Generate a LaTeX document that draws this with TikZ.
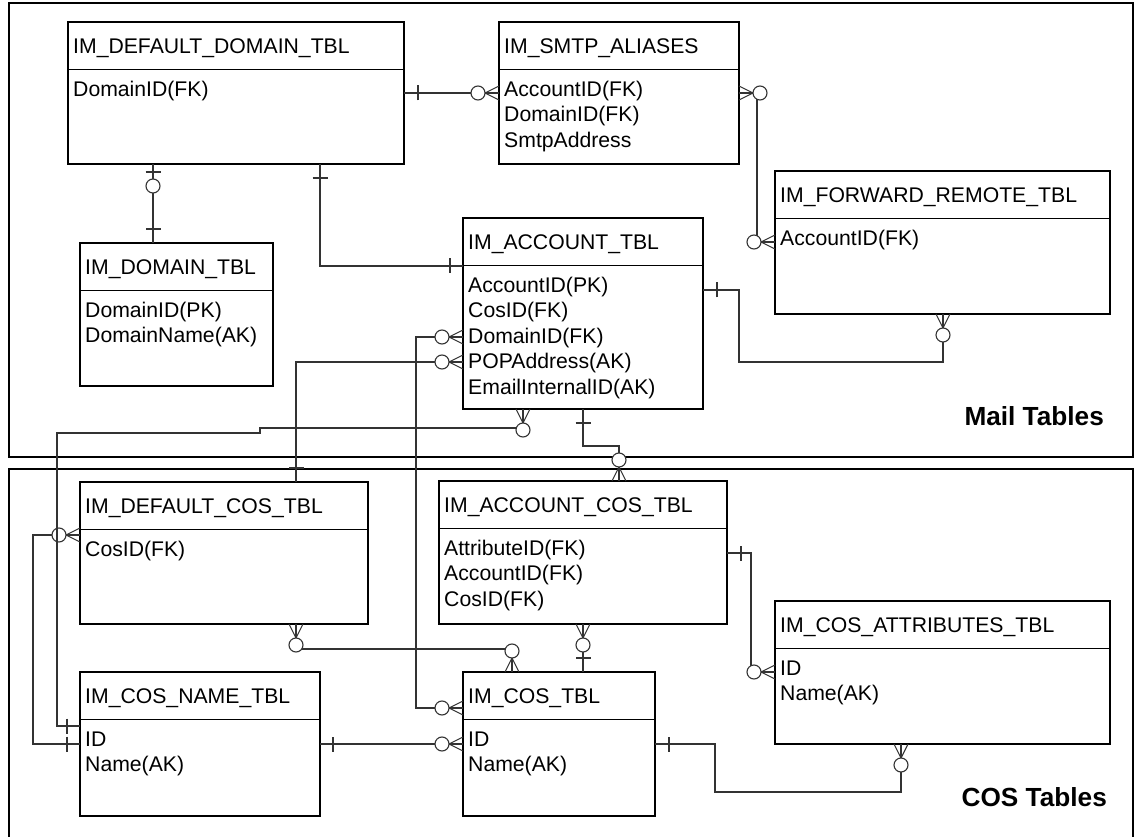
\documentclass[tikz,border=0pt]{standalone}
\usepackage{fontspec}
\setmainfont{Liberation Sans}

% An entity table: name, left, top, width, height, title, comma-separated fields
\newcommand\ertable[7]{%
  \node[tblbox, anchor=north west, minimum width=#4pt, minimum height=#5pt] (#1) at (#2,#3) {};
  \draw[tblline] ([yshift=-47.5pt]#1.north west) -- ([yshift=-47.5pt]#1.north east);
  \node[tbltext, anchor=base west] (#1-title) at ([xshift=5pt,yshift=-31.3pt]#1.north west) {#6};
  \foreach \fld [count=\rowidx] in {#7}{%
    \node[tbltext, anchor=base west] (#1-f\rowidx) at ([xshift=5pt,yshift={-74.1pt-(\rowidx-1)*25.5pt}]#1.north west) {\fld};
  }%
}
% Zero-or-many end: crow's foot touching the box and a circle beyond it
\newcommand\zeromany[2]{%
  \begin{scope}[shift={(#1)}, rotate=#2]
    \draw[conn] (0,7) -- (14,0) -- (0,-7);
    \draw[conn, fill=white] (21,0) circle[radius=7pt];
  \end{scope}}
% Exactly-one end: a bar across the line at a given distance from the box
\newcommand\onebar[3]{%
  \begin{scope}[shift={(#1)}, rotate=#2]
    \draw[conn] (#3,7.5) -- (#3,-7.5);
  \end{scope}}
% Zero-or-one end: bar near the box and a circle beyond it
\newcommand\zeroone[2]{%
  \begin{scope}[shift={(#1)}, rotate=#2]
    \draw[conn] (8,7.5) -- (8,-7.5);
    \draw[conn, fill=white] (22,0) circle[radius=7pt];
  \end{scope}}

\begin{document}
\begin{tikzpicture}[x=1pt,y=-1pt,
  frame/.style={draw=black, line width=2pt},
  tblbox/.style={rectangle, draw=black, line width=1.8pt, fill=white, inner sep=0pt, outer sep=0pt},
  tblline/.style={draw=black, line width=1.8pt},
  tbltext/.style={inner sep=0pt, font=\fontsize{21.2}{25.5}\selectfont},
  conn/.style={draw=black!80, line width=1.1pt},
  grouplabel/.style={inner sep=0pt, font=\fontsize{26.2}{30}\selectfont\bfseries},
]
\path[use as bounding box] (0,0) rectangle (1136,837);
\clip (0,0) rectangle (1136,837);

% group frames
\draw[frame] (9,3) rectangle (1133,457);
\draw[frame] (9,469) rectangle (1133,870);
\node[grouplabel, anchor=east] (mail-label) at (1104,416) {Mail Tables};
\node[grouplabel, anchor=east] (cos-label) at (1107,797) {COS Tables};

% tables
\ertable{dd}{68}{22}{336}{142}{IM\_DEFAULT\_DOMAIN\_TBL}{DomainID(FK)}
\ertable{domain}{80}{243}{193}{143}{IM\_DOMAIN\_TBL}{DomainID(PK),DomainName(AK)}
\ertable{smtp}{499}{22}{240}{142}{IM\_SMTP\_ALIASES}{AccountID(FK),DomainID(FK),SmtpAddress}
\ertable{fwd}{775}{171}{335}{143}{IM\_FORWARD\_REMOTE\_TBL}{AccountID(FK)}
\ertable{acct}{463}{218}{240}{191}{IM\_ACCOUNT\_TBL}{AccountID(PK),CosID(FK),DomainID(FK),POPAddress(AK),EmailInternalID(AK)}
\ertable{defcos}{80}{482}{288}{142}{IM\_DEFAULT\_COS\_TBL}{CosID(FK)}
\ertable{acccos}{439}{481}{288}{143}{IM\_ACCOUNT\_COS\_TBL}{AttributeID(FK),AccountID(FK),CosID(FK)}
\ertable{attr}{775}{601}{335}{143}{IM\_COS\_ATTRIBUTES\_TBL}{ID,Name(AK)}
\ertable{cosname}{80}{672}{240}{144}{IM\_COS\_NAME\_TBL}{ID,Name(AK)}
\ertable{costbl}{463}{672}{192}{144}{IM\_COS\_TBL}{ID,Name(AK)}

% default domain -> smtp aliases
\draw[conn] (dd.east |- 0,93) -- (smtp.west |- 0,93);
\onebar{dd.east |- 0,93}{0}{14}
\zeromany{smtp.west |- 0,93}{180}

% smtp aliases -> forward remote
\draw[conn] (smtp.east |- 0,93) -- ++(18,0) |- (fwd.west |- 0,242);
\zeromany{smtp.east |- 0,93}{0}
\zeromany{fwd.west |- 0,242}{180}

% default domain -> domain
\draw[conn] (dd.south -| 153,0) -- (domain.north -| 153,0);
\zeroone{dd.south -| 153,0}{-90}
\onebar{domain.north -| 153,0}{90}{14}

% default domain -> account
\draw[conn] (dd.south -| 320,0) |- (acct.west |- 0,266);
\onebar{dd.south -| 320,0}{-90}{14}
\onebar{acct.west |- 0,266}{180}{13}

% account -> forward remote
\draw[conn] (acct.east |- 0,290) -| (739,362) -| (fwd.south -| 943,0);
\onebar{acct.east |- 0,290}{0}{14}
\zeromany{fwd.south -| 943,0}{-90}

% account -> account cos
\draw[conn] (acct.south -| 583,0) |- (619,446) -- (acccos.north -| 619,0);
\onebar{acct.south -| 583,0}{-90}{14}
\zeromany{acccos.north -| 619,0}{90}

% account DomainID -> cos table
\draw[conn] (acct.west |- 0,337) -| (416,708) -- (costbl.west |- 0,708);
\zeromany{acct.west |- 0,337}{180}
\zeromany{costbl.west |- 0,708}{180}

% account POPAddress -> default cos
\draw[conn] (acct.west |- 0,362) -| (defcos.north -| 296,0);
\zeromany{acct.west |- 0,362}{180}
\onebar{defcos.north -| 296,0}{90}{14}

% default cos CosID -> cos name
\draw[conn] (defcos.west |- 0,535) -| (33,744) -- (cosname.west |- 0,744);
\zeromany{defcos.west |- 0,535}{180}
\onebar{cosname.west |- 0,744}{180}{13}

% cos name -> cos table
\draw[conn] (cosname.east |- 0,744) -- (costbl.west |- 0,744);
\onebar{cosname.east |- 0,744}{0}{13}
\zeromany{costbl.west |- 0,744}{180}

% default cos -> cos table
\draw[conn] (defcos.south -| 296,0) |- (512,649) -- (costbl.north -| 512,0);
\zeromany{defcos.south -| 296,0}{-90}
\zeromany{costbl.north -| 512,0}{90}

% account cos -> cos table
\draw[conn] (acccos.south -| 583,0) -- (costbl.north -| 583,0);
\zeromany{acccos.south -| 583,0}{-90}
\onebar{costbl.north -| 583,0}{90}{14}

% account cos -> cos attributes
\draw[conn] (acccos.east |- 0,553) -| (751,672) -- (attr.west |- 0,672);
\onebar{acccos.east |- 0,553}{0}{14}
\zeromany{attr.west |- 0,672}{180}

% cos table -> cos attributes
\draw[conn] (costbl.east |- 0,744) -| (715,792) -| (attr.south -| 901,0);
\onebar{costbl.east |- 0,744}{0}{14}
\zeromany{attr.south -| 901,0}{-90}

% account -> cos name
\draw[conn] (acct.south -| 523,0) -- (523,428) -- (260,428) -- (260,433) -| (57,726) -- (cosname.west |- 0,726);
\zeromany{acct.south -| 523,0}{-90}
\onebar{cosname.west |- 0,726}{180}{13}
\end{tikzpicture}
\end{document}
